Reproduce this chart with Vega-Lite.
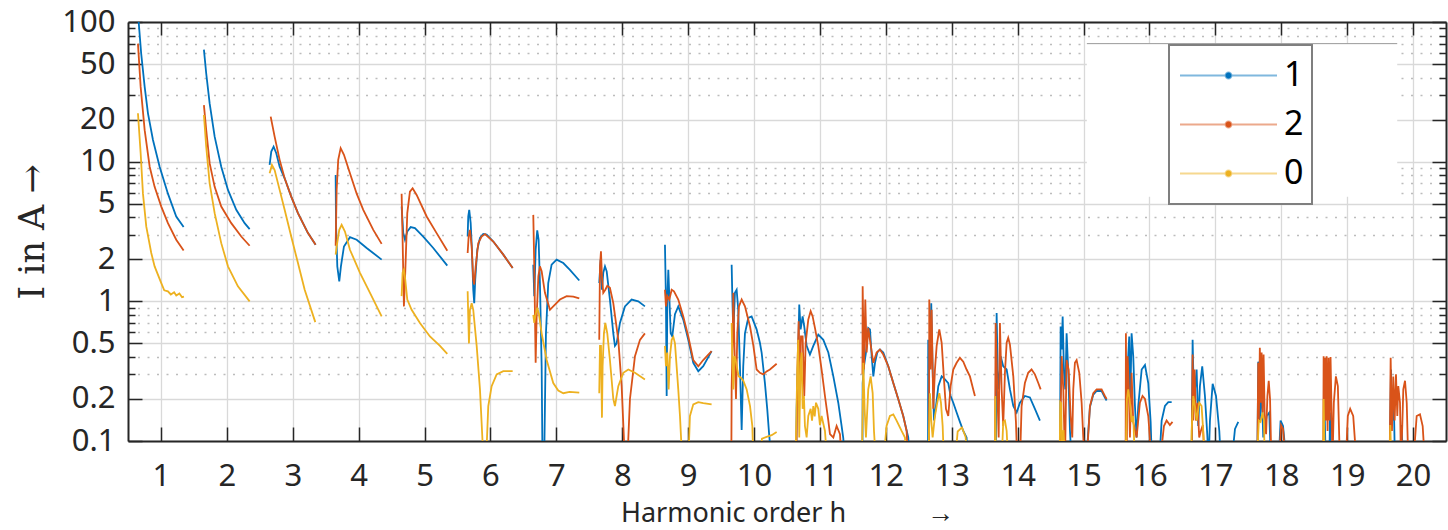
{
"$schema":"https://vega.github.io/schema/vega-lite/v6.json",
"width":1318,"height":419,
"autosize":"none",
"padding":{"left":128,"top":22,"right":2,"bottom":89},
"background":"white",
"config":{"view":{"stroke":null},
 "axis":{"labelFont":"Noto Sans","labelColor":"#262626","labelFontSize":31,"tickColor":"#262626","tickWidth":1.5,"domainColor":"#262626","domainWidth":2,"labelFlush":false,"labelOverlap":false,"titleFontWeight":"normal","titleColor":"#262626","gridColor":"#d9d9d9","gridWidth":1.3}},
"resolve":{"axis":{"x":"independent","y":"independent"}},
"layer":[
{"data":{"values":[{"h":1,"I":1}]},"mark":{"type":"point","opacity":0},
 "encoding":{
  "x":{"field":"h","type":"quantitative","scale":{"domain":[0.5,20.5],"nice":false,"zero":false},
   "axis":{"orient":"bottom","values":[1,2,3,4,5,6,7,8,9,10,11,12,13,14,15,16,17,18,19,20],"ticks":false,"grid":true,"domain":true,"labelPadding":20,
   "title":"Harmonic order h\u2003\u2003\u2003→","titleFont":"Noto Sans","titleFontSize":27,"titlePadding":9}},
  "y":{"field":"I","type":"quantitative","scale":{"type":"log","domain":[0.1,100],"nice":false},
   "axis":{"orient":"left","values":[0.1,0.2,0.5,1,2,5,10,20,50,100],"format":"~g","ticks":false,"grid":true,"domain":true,"labelPadding":13,
   "title":"I in A →","titleFont":"DejaVu Serif","titleFontSize":35,"titlePadding":11}}}},
{"data":{"values":[{"h":1,"I":1}]},"mark":{"type":"point","opacity":0},
 "encoding":{
  "x":{"field":"h","type":"quantitative","scale":{"domain":[0.5,20.5],"nice":false,"zero":false},
   "axis":{"orient":"bottom","values":[1,2,3,4,5,6,7,8,9,10,11,12,13,14,15,16,17,18,19,20],"labels":false,"grid":false,"domain":false,"ticks":true,"tickSize":-14,"title":null}},
  "y":{"field":"I","type":"quantitative","scale":{"type":"log","domain":[0.1,100],"nice":false},
   "axis":{"orient":"left","values":[0.3,0.4,0.6,0.7,0.8,0.9,3,4,6,7,8,9,30,40,60,70,80,90],"labels":false,"grid":true,"gridDash":[2,7.5],"gridColor":"#bcbcbc","gridWidth":1.4,"domain":false,"ticks":true,"tickSize":-7,"title":null}}}},
{"data":{"values":[{"h":1,"I":1}]},"mark":{"type":"point","opacity":0},
 "encoding":{
  "x":{"field":"h","type":"quantitative","scale":{"domain":[0.5,20.5],"nice":false,"zero":false},
   "axis":{"orient":"top","values":[1,2,3,4,5,6,7,8,9,10,11,12,13,14,15,16,17,18,19,20],"labels":false,"grid":false,"domain":true,"ticks":true,"tickSize":-13,"title":null}},
  "y":{"field":"I","type":"quantitative","scale":{"type":"log","domain":[0.1,100],"nice":false},
   "axis":{"orient":"left","values":[0.1,0.2,0.5,1,2,5,10,20,50,100],"labels":false,"grid":false,"domain":false,"ticks":true,"tickSize":-14,"title":null}}}},
{"data":{"values":[{"h":1,"I":1}]},"mark":{"type":"point","opacity":0},
 "encoding":{
  "x":{"field":"h","type":"quantitative","scale":{"domain":[0.5,20.5],"nice":false,"zero":false},"axis":null},
  "y":{"field":"I","type":"quantitative","scale":{"type":"log","domain":[0.1,100],"nice":false},
   "axis":{"orient":"right","values":[0.1,0.2,0.5,1,2,5,10,20,50,100],"labels":false,"grid":false,"domain":true,"ticks":true,"tickSize":-14,"title":null}}}},
{"data":{"values":[{"h":1,"I":1}]},"mark":{"type":"point","opacity":0},
 "encoding":{
  "x":{"field":"h","type":"quantitative","scale":{"domain":[0.5,20.5],"nice":false,"zero":false},"axis":null},
  "y":{"field":"I","type":"quantitative","scale":{"type":"log","domain":[0.1,100],"nice":false},
   "axis":{"orient":"right","values":[0.3,0.4,0.6,0.7,0.8,0.9,3,4,6,7,8,9,30,40,60,70,80,90],"labels":false,"grid":false,"domain":false,"ticks":true,"tickSize":-7,"title":null}}}},
{"data":{"values":[{}]},"mark":{"type":"rect","color":"white"},
 "encoding":{
  "x":{"datum":15.05,"type":"quantitative","scale":{"domain":[0.5,20.5],"nice":false,"zero":false},"axis":null},
  "x2":{"datum":19.76},
  "y":{"datum":70,"type":"quantitative","scale":{"type":"log","domain":[0.1,100],"nice":false},"axis":null},
  "y2":{"datum":5.6}}},
{"data":{"values":[{}]},"mark":{"type":"rule","color":"#9a9a9a","strokeWidth":1},
 "encoding":{
  "x":{"datum":15.05,"type":"quantitative","scale":{"domain":[0.5,20.5],"nice":false,"zero":false},"axis":null},
  "x2":{"datum":19.76},
  "y":{"datum":70,"type":"quantitative","scale":{"type":"log","domain":[0.1,100],"nice":false},"axis":null}}},
{"data":{"values":[
{"s":1,"g":1,"h":0.655,"I":110},{"s":1,"g":1,"h":0.70,"I":59.5},{"s":1,"g":1,"h":0.753,"I":34.3},{"s":1,"g":1,"h":0.803,"I":22.2},{"s":1,"g":1,"h":0.879,"I":14.3},{"s":1,"g":1,"h":0.98,"I":9.2},{"s":1,"g":1,"h":1.106,"I":5.9},{"s":1,"g":1,"h":1.232,"I":4.05},{"s":1,"g":1,"h":1.344,"I":3.4},
{"s":1,"g":2,"h":1.652,"I":63.5},{"s":1,"g":2,"h":1.687,"I":42.8},{"s":1,"g":2,"h":1.739,"I":26.1},{"s":1,"g":2,"h":1.815,"I":15.1},{"s":1,"g":2,"h":1.915,"I":9.2},{"s":1,"g":2,"h":2.017,"I":6.28},{"s":1,"g":2,"h":2.143,"I":4.52},{"s":1,"g":2,"h":2.27,"I":3.63},{"s":1,"g":2,"h":2.346,"I":3.29},
{"s":1,"g":3,"h":2.649,"I":9.47},{"s":1,"g":3,"h":2.674,"I":11.8},{"s":1,"g":3,"h":2.71,"I":12.8},{"s":1,"g":3,"h":2.75,"I":11.5},{"s":1,"g":3,"h":2.801,"I":9.2},{"s":1,"g":3,"h":2.877,"I":7.6},{"s":1,"g":3,"h":2.977,"I":5.62},{"s":1,"g":3,"h":3.079,"I":4.28},{"s":1,"g":3,"h":3.231,"I":3.08},{"s":1,"g":3,"h":3.347,"I":2.54},
{"s":1,"g":4,"h":3.651,"I":8.03},{"s":1,"g":4,"h":3.656,"I":3.63},{"s":1,"g":4,"h":3.676,"I":1.78},{"s":1,"g":4,"h":3.706,"I":1.39},{"s":1,"g":4,"h":3.731,"I":1.78},{"s":1,"g":4,"h":3.777,"I":2.47},{"s":1,"g":4,"h":3.868,"I":2.88},{"s":1,"g":4,"h":3.97,"I":2.76},{"s":1,"g":4,"h":4.121,"I":2.41},{"s":1,"g":4,"h":4.349,"I":1.99},
{"s":1,"g":5,"h":4.652,"I":4.77},{"s":1,"g":5,"h":4.677,"I":3.08},{"s":1,"g":5,"h":4.703,"I":2.76},{"s":1,"g":5,"h":4.738,"I":3.16},{"s":1,"g":5,"h":4.789,"I":3.4},{"s":1,"g":5,"h":4.854,"I":3.34},{"s":1,"g":5,"h":4.98,"I":2.91},{"s":1,"g":5,"h":5.132,"I":2.41},{"s":1,"g":5,"h":5.345,"I":1.8},
{"s":1,"g":6,"h":5.654,"I":2.91},{"s":1,"g":6,"h":5.663,"I":4.05},{"s":1,"g":6,"h":5.678,"I":4.52},{"s":1,"g":6,"h":5.7,"I":3.63},{"s":1,"g":6,"h":5.719,"I":2.34},{"s":1,"g":6,"h":5.739,"I":1.21},{"s":1,"g":6,"h":5.754,"I":0.97},{"s":1,"g":6,"h":5.769,"I":1.43},{"s":1,"g":6,"h":5.8,"I":2.34},{"s":1,"g":6,"h":5.841,"I":2.84},{"s":1,"g":6,"h":5.891,"I":3.03},{"s":1,"g":6,"h":5.942,"I":3.0},{"s":1,"g":6,"h":6.043,"I":2.68},{"s":1,"g":6,"h":6.195,"I":2.16},{"s":1,"g":6,"h":6.337,"I":1.73},
{"s":1,"g":7,"h":6.65,"I":1.83},{"s":1,"g":7,"h":6.665,"I":1.09},{"s":1,"g":7,"h":6.686,"I":2.34},{"s":1,"g":7,"h":6.71,"I":3.22},{"s":1,"g":7,"h":6.731,"I":2.76},{"s":1,"g":7,"h":6.751,"I":1.35},{"s":1,"g":7,"h":6.777,"I":0.343},{"s":1,"g":7,"h":6.79,"I":0.07},{"s":1,"g":7,"h":6.815,"I":0.07},{"s":1,"g":7,"h":6.842,"I":0.59},{"s":1,"g":7,"h":6.877,"I":1.35},{"s":1,"g":7,"h":6.928,"I":1.83},{"s":1,"g":7,"h":7.004,"I":1.99},{"s":1,"g":7,"h":7.105,"I":1.88},{"s":1,"g":7,"h":7.206,"I":1.68},{"s":1,"g":7,"h":7.348,"I":1.41},
{"s":1,"g":8,"h":7.651,"I":1.35},{"s":1,"g":8,"h":7.672,"I":1.99},{"s":1,"g":8,"h":7.692,"I":1.21},{"s":1,"g":8,"h":7.712,"I":1.6},{"s":1,"g":8,"h":7.738,"I":1.78},{"s":1,"g":8,"h":7.764,"I":1.64},{"s":1,"g":8,"h":7.813,"I":1.03},{"s":1,"g":8,"h":7.864,"I":0.59},{"s":1,"g":8,"h":7.889,"I":0.48},{"s":1,"g":8,"h":7.915,"I":0.5},{"s":1,"g":8,"h":7.965,"I":0.7},{"s":1,"g":8,"h":8.041,"I":0.92},{"s":1,"g":8,"h":8.142,"I":1.03},{"s":1,"g":8,"h":8.243,"I":1.0},{"s":1,"g":8,"h":8.344,"I":0.92},
{"s":1,"g":9,"h":8.648,"I":2.54},{"s":1,"g":9,"h":8.663,"I":1.03},{"s":1,"g":9,"h":8.674,"I":0.21},{"s":1,"g":9,"h":8.684,"I":1.03},{"s":1,"g":9,"h":8.699,"I":1.68},{"s":1,"g":9,"h":8.714,"I":1.09},{"s":1,"g":9,"h":8.735,"I":0.59},{"s":1,"g":9,"h":8.759,"I":0.56},{"s":1,"g":9,"h":8.8,"I":0.81},{"s":1,"g":9,"h":8.85,"I":0.92},{"s":1,"g":9,"h":8.926,"I":0.74},{"s":1,"g":9,"h":9.002,"I":0.53},{"s":1,"g":9,"h":9.078,"I":0.363},{"s":1,"g":9,"h":9.154,"I":0.316},{"s":1,"g":9,"h":9.229,"I":0.343},{"s":1,"g":9,"h":9.356,"I":0.44},
{"s":1,"g":10,"h":9.66,"I":1.83},{"s":1,"g":10,"h":9.669,"I":1.15},{"s":1,"g":10,"h":9.685,"I":0.59},{"s":1,"g":10,"h":9.71,"I":1.15},{"s":1,"g":10,"h":9.736,"I":1.21},{"s":1,"g":10,"h":9.76,"I":0.87},{"s":1,"g":10,"h":9.786,"I":0.343},{"s":1,"g":10,"h":9.812,"I":0.12},{"s":1,"g":10,"h":9.836,"I":0.343},{"s":1,"g":10,"h":9.862,"I":0.59},{"s":1,"g":10,"h":9.912,"I":0.76},{"s":1,"g":10,"h":9.963,"I":0.78},{"s":1,"g":10,"h":10.039,"I":0.63},{"s":1,"g":10,"h":10.089,"I":0.505},{"s":1,"g":10,"h":10.115,"I":0.43},{"s":1,"g":10,"h":10.165,"I":0.26},{"s":1,"g":10,"h":10.2,"I":0.17},{"s":1,"g":10,"h":10.23,"I":0.11},{"s":1,"g":10,"h":10.267,"I":0.07},
{"s":1,"g":11,"h":10.64,"I":0.07},{"s":1,"g":11,"h":10.646,"I":0.17},{"s":1,"g":11,"h":10.67,"I":0.43},{"s":1,"g":11,"h":10.686,"I":0.95},{"s":1,"g":11,"h":10.707,"I":0.63},{"s":1,"g":11,"h":10.737,"I":0.78},{"s":1,"g":11,"h":10.762,"I":0.66},{"s":1,"g":11,"h":10.798,"I":0.48},{"s":1,"g":11,"h":10.848,"I":0.416},{"s":1,"g":11,"h":10.899,"I":0.48},{"s":1,"g":11,"h":10.975,"I":0.578},{"s":1,"g":11,"h":11.051,"I":0.53},{"s":1,"g":11,"h":11.127,"I":0.43},{"s":1,"g":11,"h":11.203,"I":0.29},{"s":1,"g":11,"h":11.278,"I":0.188},{"s":1,"g":11,"h":11.329,"I":0.128},{"s":1,"g":11,"h":11.354,"I":0.105},{"s":1,"g":11,"h":11.38,"I":0.07},
{"s":1,"g":12,"h":11.645,"I":0.07},{"s":1,"g":12,"h":11.648,"I":0.26},{"s":1,"g":12,"h":11.668,"I":0.343},{"s":1,"g":12,"h":11.698,"I":0.43},{"s":1,"g":12,"h":11.733,"I":0.645},{"s":1,"g":12,"h":11.759,"I":0.63},{"s":1,"g":12,"h":11.785,"I":0.405},{"s":1,"g":12,"h":11.81,"I":0.29},{"s":1,"g":12,"h":11.835,"I":0.363},{"s":1,"g":12,"h":11.87,"I":0.43},{"s":1,"g":12,"h":11.91,"I":0.452},{"s":1,"g":12,"h":11.961,"I":0.43},{"s":1,"g":12,"h":12.037,"I":0.343},{"s":1,"g":12,"h":12.113,"I":0.26},{"s":1,"g":12,"h":12.188,"I":0.2},{"s":1,"g":12,"h":12.264,"I":0.151},{"s":1,"g":12,"h":12.34,"I":0.106},{"s":1,"g":12,"h":12.365,"I":0.07},
{"s":1,"g":13,"h":12.64,"I":0.07},{"s":1,"g":13,"h":12.643,"I":0.53},{"s":1,"g":13,"h":12.669,"I":0.43},{"s":1,"g":13,"h":12.689,"I":0.97},{"s":1,"g":13,"h":12.71,"I":0.325},{"s":1,"g":13,"h":12.73,"I":0.14},{"s":1,"g":13,"h":12.761,"I":0.178},{"s":1,"g":13,"h":12.796,"I":0.247},{"s":1,"g":13,"h":12.847,"I":0.29},{"s":1,"g":13,"h":12.897,"I":0.276},{"s":1,"g":13,"h":12.947,"I":0.26},{"s":1,"g":13,"h":12.983,"I":0.21},{"s":1,"g":13,"h":13.023,"I":0.188},{"s":1,"g":13,"h":13.074,"I":0.16},{"s":1,"g":13,"h":13.124,"I":0.137},{"s":1,"g":13,"h":13.175,"I":0.118},{"s":1,"g":13,"h":13.225,"I":0.106},{"s":1,"g":13,"h":13.245,"I":0.07},
{"s":1,"g":14,"h":13.67,"I":0.07},{"s":1,"g":14,"h":13.681,"I":0.826},{"s":1,"g":14,"h":13.696,"I":0.325},{"s":1,"g":14,"h":13.716,"I":0.234},{"s":1,"g":14,"h":13.742,"I":0.405},{"s":1,"g":14,"h":13.781,"I":0.343},{"s":1,"g":14,"h":13.833,"I":0.325},{"s":1,"g":14,"h":13.883,"I":0.234},{"s":1,"g":14,"h":13.934,"I":0.178},{"s":1,"g":14,"h":13.985,"I":0.16},{"s":1,"g":14,"h":14.035,"I":0.188},{"s":1,"g":14,"h":14.11,"I":0.21},{"s":1,"g":14,"h":14.186,"I":0.205},{"s":1,"g":14,"h":14.262,"I":0.17},{"s":1,"g":14,"h":14.338,"I":0.14},
{"s":1,"g":15,"h":14.642,"I":0.07},{"s":1,"g":15,"h":14.652,"I":0.66},{"s":1,"g":15,"h":14.668,"I":0.452},{"s":1,"g":15,"h":14.683,"I":0.78},{"s":1,"g":15,"h":14.703,"I":0.308},{"s":1,"g":15,"h":14.723,"I":0.234},{"s":1,"g":15,"h":14.743,"I":0.59},{"s":1,"g":15,"h":14.769,"I":0.308},{"s":1,"g":15,"h":14.794,"I":0.118},{"s":1,"g":15,"h":14.819,"I":0.07},{"s":1,"g":15,"h":15.04,"I":0.07},{"s":1,"g":15,"h":15.097,"I":0.175},{"s":1,"g":15,"h":15.148,"I":0.215},{"s":1,"g":15,"h":15.198,"I":0.228},{"s":1,"g":15,"h":15.274,"I":0.228},{"s":1,"g":15,"h":15.324,"I":0.205},{"s":1,"g":15,"h":15.35,"I":0.195},
{"s":1,"g":16,"h":15.64,"I":0.07},{"s":1,"g":16,"h":15.643,"I":0.106},{"s":1,"g":16,"h":15.654,"I":0.234},{"s":1,"g":16,"h":15.678,"I":0.405},{"s":1,"g":16,"h":15.693,"I":0.56},{"s":1,"g":16,"h":15.708,"I":0.178},{"s":1,"g":16,"h":15.729,"I":0.59},{"s":1,"g":16,"h":15.754,"I":0.405},{"s":1,"g":16,"h":15.78,"I":0.178},{"s":1,"g":16,"h":15.805,"I":0.106},{"s":1,"g":16,"h":15.83,"I":0.178},{"s":1,"g":16,"h":15.882,"I":0.325},{"s":1,"g":16,"h":15.932,"I":0.35},{"s":1,"g":16,"h":15.982,"I":0.26},{"s":1,"g":16,"h":16.018,"I":0.137},{"s":1,"g":16,"h":16.038,"I":0.07},{"s":1,"g":16,"h":16.149,"I":0.07},{"s":1,"g":16,"h":16.185,"I":0.14},{"s":1,"g":16,"h":16.235,"I":0.178},{"s":1,"g":16,"h":16.286,"I":0.19},{"s":1,"g":16,"h":16.337,"I":0.19},
{"s":1,"g":17,"h":16.64,"I":0.07},{"s":1,"g":17,"h":16.655,"I":0.53},{"s":1,"g":17,"h":16.675,"I":0.188},{"s":1,"g":17,"h":16.716,"I":0.325},{"s":1,"g":17,"h":16.74,"I":0.128},{"s":1,"g":17,"h":16.766,"I":0.247},{"s":1,"g":17,"h":16.801,"I":0.343},{"s":1,"g":17,"h":16.842,"I":0.21},{"s":1,"g":17,"h":16.877,"I":0.112},{"s":1,"g":17,"h":16.898,"I":0.07},{"s":1,"g":17,"h":16.918,"I":0.14},{"s":1,"g":17,"h":16.959,"I":0.257},{"s":1,"g":17,"h":17.01,"I":0.21},{"s":1,"g":17,"h":17.06,"I":0.118},{"s":1,"g":17,"h":17.085,"I":0.07},{"s":1,"g":17,"h":17.247,"I":0.07},{"s":1,"g":17,"h":17.298,"I":0.122},{"s":1,"g":17,"h":17.348,"I":0.137},
{"s":1,"g":18,"h":17.637,"I":0.07},{"s":1,"g":18,"h":17.651,"I":0.37},{"s":1,"g":18,"h":17.675,"I":0.14},{"s":1,"g":18,"h":17.702,"I":0.247},{"s":1,"g":18,"h":17.727,"I":0.106},{"s":1,"g":18,"h":17.778,"I":0.151},{"s":1,"g":18,"h":17.818,"I":0.16},{"s":1,"g":18,"h":17.844,"I":0.07},{"s":1,"g":18,"h":17.96,"I":0.07},{"s":1,"g":18,"h":17.99,"I":0.14},{"s":1,"g":18,"h":18.027,"I":0.128},{"s":1,"g":18,"h":18.08,"I":0.07},
{"s":1,"g":19,"h":18.645,"I":0.07},{"s":1,"g":19,"h":18.66,"I":0.151},{"s":1,"g":19,"h":18.675,"I":0.07},{"s":1,"g":19,"h":18.73,"I":0.07},{"s":1,"g":19,"h":18.74,"I":0.16},{"s":1,"g":19,"h":18.755,"I":0.07},
{"s":1,"g":20,"h":19.645,"I":0.07},{"s":1,"g":20,"h":19.665,"I":0.325},{"s":1,"g":20,"h":19.685,"I":0.14},{"s":1,"g":20,"h":19.705,"I":0.234},{"s":1,"g":20,"h":19.725,"I":0.07},{"s":1,"g":20,"h":19.8,"I":0.07},{"s":1,"g":20,"h":19.825,"I":0.13},{"s":1,"g":20,"h":19.85,"I":0.07},
{"s":2,"g":1,"h":0.651,"I":70},{"s":2,"g":1,"h":0.692,"I":34.3},{"s":2,"g":1,"h":0.753,"I":16.8},{"s":2,"g":1,"h":0.829,"I":9.2},{"s":2,"g":1,"h":0.904,"I":6.6},{"s":2,"g":1,"h":1.005,"I":4.77},{"s":2,"g":1,"h":1.106,"I":3.63},{"s":2,"g":1,"h":1.232,"I":2.76},{"s":2,"g":1,"h":1.344,"I":2.31},
{"s":2,"g":2,"h":1.652,"I":25.4},{"s":2,"g":2,"h":1.687,"I":16.8},{"s":2,"g":2,"h":1.739,"I":9.75},{"s":2,"g":2,"h":1.815,"I":6.6},{"s":2,"g":2,"h":1.915,"I":4.77},{"s":2,"g":2,"h":2.067,"I":3.63},{"s":2,"g":2,"h":2.219,"I":2.91},{"s":2,"g":2,"h":2.346,"I":2.5},
{"s":2,"g":3,"h":2.665,"I":21.0},{"s":2,"g":3,"h":2.725,"I":15.1},{"s":2,"g":3,"h":2.801,"I":10.3},{"s":2,"g":3,"h":2.877,"I":7.6},{"s":2,"g":3,"h":2.977,"I":5.62},{"s":2,"g":3,"h":3.079,"I":4.28},{"s":2,"g":3,"h":3.231,"I":3.08},{"s":2,"g":3,"h":3.347,"I":2.54},
{"s":2,"g":4,"h":3.651,"I":2.5},{"s":2,"g":4,"h":3.666,"I":6.28},{"s":2,"g":4,"h":3.69,"I":10.3},{"s":2,"g":4,"h":3.727,"I":12.5},{"s":2,"g":4,"h":3.777,"I":11.2},{"s":2,"g":4,"h":3.868,"I":8.26},{"s":2,"g":4,"h":3.97,"I":5.9},{"s":2,"g":4,"h":4.07,"I":4.52},{"s":2,"g":4,"h":4.222,"I":3.25},{"s":2,"g":4,"h":4.349,"I":2.58},
{"s":2,"g":5,"h":4.652,"I":5.9},{"s":2,"g":5,"h":4.667,"I":2.76},{"s":2,"g":5,"h":4.687,"I":0.92},{"s":2,"g":5,"h":4.707,"I":1.6},{"s":2,"g":5,"h":4.738,"I":4.28},{"s":2,"g":5,"h":4.778,"I":6.1},{"s":2,"g":5,"h":4.819,"I":6.45},{"s":2,"g":5,"h":4.88,"I":5.78},{"s":2,"g":5,"h":5.032,"I":4.05},{"s":2,"g":5,"h":5.183,"I":3.08},{"s":2,"g":5,"h":5.345,"I":2.3},
{"s":2,"g":6,"h":5.654,"I":2.22},{"s":2,"g":6,"h":5.669,"I":2.91},{"s":2,"g":6,"h":5.689,"I":3.25},{"s":2,"g":6,"h":5.715,"I":2.47},{"s":2,"g":6,"h":5.739,"I":1.43},{"s":2,"g":6,"h":5.754,"I":1.32},{"s":2,"g":6,"h":5.776,"I":1.78},{"s":2,"g":6,"h":5.815,"I":2.61},{"s":2,"g":6,"h":5.866,"I":2.91},{"s":2,"g":6,"h":5.917,"I":3.03},{"s":2,"g":6,"h":6.043,"I":2.68},{"s":2,"g":6,"h":6.195,"I":2.16},{"s":2,"g":6,"h":6.337,"I":1.73},
{"s":2,"g":7,"h":6.65,"I":4.16},{"s":2,"g":7,"h":6.665,"I":1.78},{"s":2,"g":7,"h":6.686,"I":0.363},{"s":2,"g":7,"h":6.701,"I":0.78},{"s":2,"g":7,"h":6.727,"I":1.51},{"s":2,"g":7,"h":6.751,"I":1.78},{"s":2,"g":7,"h":6.777,"I":1.64},{"s":2,"g":7,"h":6.827,"I":1.15},{"s":2,"g":7,"h":6.903,"I":0.87},{"s":2,"g":7,"h":6.953,"I":0.92},{"s":2,"g":7,"h":7.055,"I":1.03},{"s":2,"g":7,"h":7.156,"I":1.09},{"s":2,"g":7,"h":7.257,"I":1.08},{"s":2,"g":7,"h":7.348,"I":1.05},
{"s":2,"g":8,"h":7.651,"I":0.53},{"s":2,"g":8,"h":7.662,"I":1.78},{"s":2,"g":8,"h":7.677,"I":2.28},{"s":2,"g":8,"h":7.692,"I":1.51},{"s":2,"g":8,"h":7.712,"I":1.15},{"s":2,"g":8,"h":7.743,"I":1.21},{"s":2,"g":8,"h":7.773,"I":1.29},{"s":2,"g":8,"h":7.813,"I":1.25},{"s":2,"g":8,"h":7.864,"I":0.97},{"s":2,"g":8,"h":7.94,"I":0.53},{"s":2,"g":8,"h":7.991,"I":0.247},{"s":2,"g":8,"h":8.041,"I":0.07},{"s":2,"g":8,"h":8.077,"I":0.07},{"s":2,"g":8,"h":8.117,"I":0.2},{"s":2,"g":8,"h":8.193,"I":0.405},{"s":2,"g":8,"h":8.269,"I":0.53},{"s":2,"g":8,"h":8.344,"I":0.59},
{"s":2,"g":9,"h":8.648,"I":1.21},{"s":2,"g":9,"h":8.663,"I":0.92},{"s":2,"g":9,"h":8.684,"I":1.09},{"s":2,"g":9,"h":8.714,"I":1.03},{"s":2,"g":9,"h":8.75,"I":1.21},{"s":2,"g":9,"h":8.785,"I":1.18},{"s":2,"g":9,"h":8.85,"I":1.03},{"s":2,"g":9,"h":8.926,"I":0.78},{"s":2,"g":9,"h":9.002,"I":0.56},{"s":2,"g":9,"h":9.078,"I":0.38},{"s":2,"g":9,"h":9.154,"I":0.343},{"s":2,"g":9,"h":9.229,"I":0.38},{"s":2,"g":9,"h":9.356,"I":0.44},
{"s":2,"g":10,"h":9.655,"I":0.07},{"s":2,"g":10,"h":9.66,"I":0.24},{"s":2,"g":10,"h":9.675,"I":0.53},{"s":2,"g":10,"h":9.685,"I":1.15},{"s":2,"g":10,"h":9.7,"I":0.53},{"s":2,"g":10,"h":9.726,"I":0.2},{"s":2,"g":10,"h":9.746,"I":0.59},{"s":2,"g":10,"h":9.771,"I":0.92},{"s":2,"g":10,"h":9.812,"I":1.03},{"s":2,"g":10,"h":9.862,"I":0.92},{"s":2,"g":10,"h":9.939,"I":0.66},{"s":2,"g":10,"h":9.99,"I":0.48},{"s":2,"g":10,"h":10.039,"I":0.325},{"s":2,"g":10,"h":10.089,"I":0.308},{"s":2,"g":10,"h":10.14,"I":0.3},{"s":2,"g":10,"h":10.19,"I":0.315},{"s":2,"g":10,"h":10.241,"I":0.325},{"s":2,"g":10,"h":10.343,"I":0.357},
{"s":2,"g":11,"h":10.64,"I":0.07},{"s":2,"g":11,"h":10.646,"I":0.106},{"s":2,"g":11,"h":10.661,"I":0.363},{"s":2,"g":11,"h":10.677,"I":0.72},{"s":2,"g":11,"h":10.697,"I":0.22},{"s":2,"g":11,"h":10.712,"I":0.56},{"s":2,"g":11,"h":10.737,"I":0.56},{"s":2,"g":11,"h":10.762,"I":0.21},{"s":2,"g":11,"h":10.783,"I":0.505},{"s":2,"g":11,"h":10.823,"I":0.74},{"s":2,"g":11,"h":10.859,"I":0.85},{"s":2,"g":11,"h":10.889,"I":0.78},{"s":2,"g":11,"h":10.924,"I":0.645},{"s":2,"g":11,"h":10.975,"I":0.48},{"s":2,"g":11,"h":11.025,"I":0.325},{"s":2,"g":11,"h":11.076,"I":0.21},{"s":2,"g":11,"h":11.127,"I":0.14},{"s":2,"g":11,"h":11.152,"I":0.112},{"s":2,"g":11,"h":11.203,"I":0.106},{"s":2,"g":11,"h":11.253,"I":0.128},{"s":2,"g":11,"h":11.304,"I":0.112},{"s":2,"g":11,"h":11.33,"I":0.07},
{"s":2,"g":12,"h":11.645,"I":0.3},{"s":2,"g":12,"h":11.648,"I":1.28},{"s":2,"g":12,"h":11.668,"I":0.325},{"s":2,"g":12,"h":11.688,"I":1.03},{"s":2,"g":12,"h":11.709,"I":0.43},{"s":2,"g":12,"h":11.733,"I":0.645},{"s":2,"g":12,"h":11.759,"I":0.53},{"s":2,"g":12,"h":11.81,"I":0.363},{"s":2,"g":12,"h":11.86,"I":0.43},{"s":2,"g":12,"h":11.91,"I":0.452},{"s":2,"g":12,"h":11.961,"I":0.416},{"s":2,"g":12,"h":12.037,"I":0.343},{"s":2,"g":12,"h":12.113,"I":0.26},{"s":2,"g":12,"h":12.188,"I":0.2},{"s":2,"g":12,"h":12.264,"I":0.151},{"s":2,"g":12,"h":12.315,"I":0.118},{"s":2,"g":12,"h":12.34,"I":0.07},
{"s":2,"g":13,"h":12.655,"I":0.07},{"s":2,"g":13,"h":12.659,"I":1.03},{"s":2,"g":13,"h":12.679,"I":0.325},{"s":2,"g":13,"h":12.695,"I":0.87},{"s":2,"g":13,"h":12.72,"I":0.17},{"s":2,"g":13,"h":12.745,"I":0.325},{"s":2,"g":13,"h":12.771,"I":0.48},{"s":2,"g":13,"h":12.811,"I":0.63},{"s":2,"g":13,"h":12.847,"I":0.505},{"s":2,"g":13,"h":12.882,"I":0.276},{"s":2,"g":13,"h":12.912,"I":0.17},{"s":2,"g":13,"h":12.947,"I":0.151},{"s":2,"g":13,"h":12.983,"I":0.247},{"s":2,"g":13,"h":13.023,"I":0.325},{"s":2,"g":13,"h":13.074,"I":0.363},{"s":2,"g":13,"h":13.124,"I":0.394},{"s":2,"g":13,"h":13.175,"I":0.37},{"s":2,"g":13,"h":13.225,"I":0.325},{"s":2,"g":13,"h":13.276,"I":0.29},{"s":2,"g":13,"h":13.326,"I":0.234},{"s":2,"g":13,"h":13.352,"I":0.21},
{"s":2,"g":14,"h":13.655,"I":0.07},{"s":2,"g":14,"h":13.666,"I":0.7},{"s":2,"g":14,"h":13.691,"I":0.234},{"s":2,"g":14,"h":13.712,"I":0.106},{"s":2,"g":14,"h":13.731,"I":0.7},{"s":2,"g":14,"h":13.757,"I":0.234},{"s":2,"g":14,"h":13.781,"I":0.128},{"s":2,"g":14,"h":13.807,"I":0.308},{"s":2,"g":14,"h":13.833,"I":0.505},{"s":2,"g":14,"h":13.857,"I":0.548},{"s":2,"g":14,"h":13.883,"I":0.49},{"s":2,"g":14,"h":13.934,"I":0.29},{"s":2,"g":14,"h":13.974,"I":0.137},{"s":2,"g":14,"h":13.994,"I":0.07},{"s":2,"g":14,"h":14.035,"I":0.07},{"s":2,"g":14,"h":14.06,"I":0.178},{"s":2,"g":14,"h":14.11,"I":0.26},{"s":2,"g":14,"h":14.16,"I":0.308},{"s":2,"g":14,"h":14.211,"I":0.325},{"s":2,"g":14,"h":14.262,"I":0.3},{"s":2,"g":14,"h":14.313,"I":0.26},{"s":2,"g":14,"h":14.349,"I":0.234},
{"s":2,"g":15,"h":14.645,"I":0.07},{"s":2,"g":15,"h":14.652,"I":0.151},{"s":2,"g":15,"h":14.668,"I":0.405},{"s":2,"g":15,"h":14.693,"I":0.234},{"s":2,"g":15,"h":14.718,"I":0.07},{"s":2,"g":15,"h":14.743,"I":0.38},{"s":2,"g":15,"h":14.774,"I":0.325},{"s":2,"g":15,"h":14.804,"I":0.151},{"s":2,"g":15,"h":14.829,"I":0.106},{"s":2,"g":15,"h":14.844,"I":0.234},{"s":2,"g":15,"h":14.869,"I":0.363},{"s":2,"g":15,"h":14.895,"I":0.38},{"s":2,"g":15,"h":14.935,"I":0.308},{"s":2,"g":15,"h":14.971,"I":0.188},{"s":2,"g":15,"h":14.996,"I":0.106},{"s":2,"g":15,"h":15.021,"I":0.07},{"s":2,"g":15,"h":15.047,"I":0.07},{"s":2,"g":15,"h":15.097,"I":0.178},{"s":2,"g":15,"h":15.148,"I":0.22},{"s":2,"g":15,"h":15.198,"I":0.234},{"s":2,"g":15,"h":15.274,"I":0.234},{"s":2,"g":15,"h":15.324,"I":0.21},{"s":2,"g":15,"h":15.35,"I":0.2},
{"s":2,"g":16,"h":15.638,"I":0.07},{"s":2,"g":16,"h":15.643,"I":0.59},{"s":2,"g":16,"h":15.654,"I":0.07},{"s":2,"g":16,"h":15.669,"I":0.405},{"s":2,"g":16,"h":15.688,"I":0.234},{"s":2,"g":16,"h":15.704,"I":0.106},{"s":2,"g":16,"h":15.729,"I":0.308},{"s":2,"g":16,"h":15.754,"I":0.137},{"s":2,"g":16,"h":15.805,"I":0.106},{"s":2,"g":16,"h":15.855,"I":0.188},{"s":2,"g":16,"h":15.895,"I":0.21},{"s":2,"g":16,"h":15.932,"I":0.2},{"s":2,"g":16,"h":15.982,"I":0.151},{"s":2,"g":16,"h":16.033,"I":0.07},{"s":2,"g":16,"h":16.159,"I":0.07},{"s":2,"g":16,"h":16.22,"I":0.128},{"s":2,"g":16,"h":16.26,"I":0.14},{"s":2,"g":16,"h":16.31,"I":0.13},{"s":2,"g":16,"h":16.35,"I":0.137},
{"s":2,"g":17,"h":16.64,"I":0.07},{"s":2,"g":17,"h":16.655,"I":0.416},{"s":2,"g":17,"h":16.665,"I":0.14},{"s":2,"g":17,"h":16.685,"I":0.325},{"s":2,"g":17,"h":16.705,"I":0.14},{"s":2,"g":17,"h":16.73,"I":0.188},{"s":2,"g":17,"h":16.755,"I":0.106},{"s":2,"g":17,"h":16.78,"I":0.118},{"s":2,"g":17,"h":16.81,"I":0.13},{"s":2,"g":17,"h":16.84,"I":0.07},
{"s":2,"g":18,"h":17.637,"I":0.07},{"s":2,"g":18,"h":17.651,"I":0.363},{"s":2,"g":18,"h":17.66,"I":0.14},{"s":2,"g":18,"h":17.675,"I":0.465},{"s":2,"g":18,"h":17.69,"I":0.188},{"s":2,"g":18,"h":17.702,"I":0.43},{"s":2,"g":18,"h":17.717,"I":0.16},{"s":2,"g":18,"h":17.732,"I":0.416},{"s":2,"g":18,"h":17.75,"I":0.14},{"s":2,"g":18,"h":17.77,"I":0.112},{"s":2,"g":18,"h":17.79,"I":0.21},{"s":2,"g":18,"h":17.81,"I":0.27},{"s":2,"g":18,"h":17.83,"I":0.2},{"s":2,"g":18,"h":17.85,"I":0.07},{"s":2,"g":18,"h":17.966,"I":0.07},{"s":2,"g":18,"h":17.997,"I":0.13},{"s":2,"g":18,"h":18.027,"I":0.122},{"s":2,"g":18,"h":18.068,"I":0.07},
{"s":2,"g":19,"h":18.637,"I":0.07},{"s":2,"g":19,"h":18.643,"I":0.405},{"s":2,"g":19,"h":18.652,"I":0.14},{"s":2,"g":19,"h":18.663,"I":0.394},{"s":2,"g":19,"h":18.678,"I":0.14},{"s":2,"g":19,"h":18.688,"I":0.405},{"s":2,"g":19,"h":18.703,"I":0.118},{"s":2,"g":19,"h":18.718,"I":0.394},{"s":2,"g":19,"h":18.733,"I":0.14},{"s":2,"g":19,"h":18.748,"I":0.4},{"s":2,"g":19,"h":18.778,"I":0.07},{"s":2,"g":19,"h":18.798,"I":0.188},{"s":2,"g":19,"h":18.829,"I":0.29},{"s":2,"g":19,"h":18.859,"I":0.247},{"s":2,"g":19,"h":18.89,"I":0.07},{"s":2,"g":19,"h":18.98,"I":0.07},{"s":2,"g":19,"h":19.01,"I":0.151},{"s":2,"g":19,"h":19.046,"I":0.17},{"s":2,"g":19,"h":19.092,"I":0.151},{"s":2,"g":19,"h":19.142,"I":0.07},
{"s":2,"g":20,"h":19.645,"I":0.07},{"s":2,"g":20,"h":19.66,"I":0.394},{"s":2,"g":20,"h":19.68,"I":0.118},{"s":2,"g":20,"h":19.7,"I":0.29},{"s":2,"g":20,"h":19.721,"I":0.14},{"s":2,"g":20,"h":19.741,"I":0.3},{"s":2,"g":20,"h":19.761,"I":0.151},{"s":2,"g":20,"h":19.776,"I":0.247},{"s":2,"g":20,"h":19.802,"I":0.188},{"s":2,"g":20,"h":19.817,"I":0.07},{"s":2,"g":20,"h":19.837,"I":0.13},{"s":2,"g":20,"h":19.852,"I":0.234},{"s":2,"g":20,"h":19.878,"I":0.27},{"s":2,"g":20,"h":19.904,"I":0.188},{"s":2,"g":20,"h":19.928,"I":0.07},{"s":2,"g":20,"h":20.004,"I":0.07},{"s":2,"g":20,"h":20.055,"I":0.151},{"s":2,"g":20,"h":20.105,"I":0.155},{"s":2,"g":20,"h":20.146,"I":0.128},{"s":2,"g":20,"h":20.18,"I":0.07},
{"s":0,"g":1,"h":0.651,"I":22.2},{"s":0,"g":1,"h":0.692,"I":11.5},{"s":0,"g":1,"h":0.727,"I":5.9},{"s":0,"g":1,"h":0.777,"I":3.44},{"s":0,"g":1,"h":0.853,"I":2.22},{"s":0,"g":1,"h":0.904,"I":1.78},{"s":0,"g":1,"h":1.005,"I":1.35},{"s":0,"g":1,"h":1.05,"I":1.2},{"s":0,"g":1,"h":1.106,"I":1.18},{"s":0,"g":1,"h":1.15,"I":1.12},{"s":0,"g":1,"h":1.2,"I":1.16},{"s":0,"g":1,"h":1.232,"I":1.1},{"s":0,"g":1,"h":1.28,"I":1.14},{"s":0,"g":1,"h":1.32,"I":1.07},{"s":0,"g":1,"h":1.349,"I":1.08},
{"s":0,"g":2,"h":1.652,"I":21.6},{"s":0,"g":2,"h":1.687,"I":12.8},{"s":0,"g":2,"h":1.739,"I":7.0},{"s":0,"g":2,"h":1.815,"I":4.28},{"s":0,"g":2,"h":1.915,"I":2.61},{"s":0,"g":2,"h":2.017,"I":1.78},{"s":0,"g":2,"h":2.168,"I":1.28},{"s":0,"g":2,"h":2.346,"I":1.0},
{"s":0,"g":3,"h":2.649,"I":8.26},{"s":0,"g":3,"h":2.684,"I":9.47},{"s":0,"g":3,"h":2.725,"I":8.7},{"s":0,"g":3,"h":2.801,"I":6.28},{"s":0,"g":3,"h":2.877,"I":4.52},{"s":0,"g":3,"h":2.977,"I":2.91},{"s":0,"g":3,"h":3.079,"I":1.88},{"s":0,"g":3,"h":3.181,"I":1.21},{"s":0,"g":3,"h":3.342,"I":0.71},
{"s":0,"g":4,"h":3.651,"I":2.16},{"s":0,"g":4,"h":3.666,"I":2.47},{"s":0,"g":4,"h":3.706,"I":3.25},{"s":0,"g":4,"h":3.742,"I":3.53},{"s":0,"g":4,"h":3.792,"I":3.16},{"s":0,"g":4,"h":3.868,"I":2.34},{"s":0,"g":4,"h":4.02,"I":1.6},{"s":0,"g":4,"h":4.172,"I":1.15},{"s":0,"g":4,"h":4.349,"I":0.78},
{"s":0,"g":5,"h":4.652,"I":1.09},{"s":0,"g":5,"h":4.667,"I":1.6},{"s":0,"g":5,"h":4.687,"I":1.68},{"s":0,"g":5,"h":4.707,"I":1.43},{"s":0,"g":5,"h":4.738,"I":1.03},{"s":0,"g":5,"h":4.804,"I":0.87},{"s":0,"g":5,"h":4.93,"I":0.7},{"s":0,"g":5,"h":5.082,"I":0.56},{"s":0,"g":5,"h":5.234,"I":0.48},{"s":0,"g":5,"h":5.345,"I":0.42},
{"s":0,"g":6,"h":5.654,"I":1.18},{"s":0,"g":6,"h":5.663,"I":0.78},{"s":0,"g":6,"h":5.674,"I":0.5},{"s":0,"g":6,"h":5.689,"I":0.87},{"s":0,"g":6,"h":5.715,"I":0.97},{"s":0,"g":6,"h":5.739,"I":0.87},{"s":0,"g":6,"h":5.791,"I":0.48},{"s":0,"g":6,"h":5.841,"I":0.234},{"s":0,"g":6,"h":5.882,"I":0.095},{"s":0,"g":6,"h":5.91,"I":0.07},{"s":0,"g":6,"h":5.942,"I":0.09},{"s":0,"g":6,"h":5.967,"I":0.178},{"s":0,"g":6,"h":6.018,"I":0.247},{"s":0,"g":6,"h":6.094,"I":0.3},{"s":0,"g":6,"h":6.195,"I":0.316},{"s":0,"g":6,"h":6.337,"I":0.316},
{"s":0,"g":7,"h":6.65,"I":0.8},{"s":0,"g":7,"h":6.665,"I":0.7},{"s":0,"g":7,"h":6.686,"I":0.81},{"s":0,"g":7,"h":6.71,"I":0.9},{"s":0,"g":7,"h":6.736,"I":0.81},{"s":0,"g":7,"h":6.777,"I":0.59},{"s":0,"g":7,"h":6.853,"I":0.38},{"s":0,"g":7,"h":6.953,"I":0.26},{"s":0,"g":7,"h":7.029,"I":0.23},{"s":0,"g":7,"h":7.105,"I":0.22},{"s":0,"g":7,"h":7.2,"I":0.225},{"s":0,"g":7,"h":7.348,"I":0.222},
{"s":0,"g":8,"h":7.651,"I":0.22},{"s":0,"g":8,"h":7.662,"I":0.48},{"s":0,"g":8,"h":7.677,"I":0.48},{"s":0,"g":8,"h":7.692,"I":0.147},{"s":0,"g":8,"h":7.702,"I":0.343},{"s":0,"g":8,"h":7.722,"I":0.59},{"s":0,"g":8,"h":7.743,"I":0.7},{"s":0,"g":8,"h":7.773,"I":0.59},{"s":0,"g":8,"h":7.813,"I":0.38},{"s":0,"g":8,"h":7.864,"I":0.2},{"s":0,"g":8,"h":7.889,"I":0.178},{"s":0,"g":8,"h":7.94,"I":0.247},{"s":0,"g":8,"h":8.016,"I":0.308},{"s":0,"g":8,"h":8.092,"I":0.325},{"s":0,"g":8,"h":8.193,"I":0.308},{"s":0,"g":8,"h":8.344,"I":0.276},
{"s":0,"g":9,"h":8.648,"I":0.48},{"s":0,"g":9,"h":8.663,"I":0.343},{"s":0,"g":9,"h":8.684,"I":0.43},{"s":0,"g":9,"h":8.704,"I":0.234},{"s":0,"g":9,"h":8.724,"I":0.405},{"s":0,"g":9,"h":8.75,"I":0.53},{"s":0,"g":9,"h":8.775,"I":0.557},{"s":0,"g":9,"h":8.8,"I":0.5},{"s":0,"g":9,"h":8.825,"I":0.343},{"s":0,"g":9,"h":8.85,"I":0.234},{"s":0,"g":9,"h":8.876,"I":0.151},{"s":0,"g":9,"h":8.911,"I":0.07},{"s":0,"g":9,"h":9.002,"I":0.07},{"s":0,"g":9,"h":9.027,"I":0.151},{"s":0,"g":9,"h":9.078,"I":0.183},{"s":0,"g":9,"h":9.154,"I":0.19},{"s":0,"g":9,"h":9.229,"I":0.187},{"s":0,"g":9,"h":9.356,"I":0.183},
{"s":0,"g":10,"h":9.66,"I":0.7},{"s":0,"g":10,"h":9.669,"I":0.43},{"s":0,"g":10,"h":9.685,"I":0.234},{"s":0,"g":10,"h":9.7,"I":0.405},{"s":0,"g":10,"h":9.721,"I":0.38},{"s":0,"g":10,"h":9.746,"I":0.325},{"s":0,"g":10,"h":9.767,"I":0.29},{"s":0,"g":10,"h":9.797,"I":0.285},{"s":0,"g":10,"h":9.837,"I":0.27},{"s":0,"g":10,"h":9.888,"I":0.234},{"s":0,"g":10,"h":9.939,"I":0.178},{"s":0,"g":10,"h":9.974,"I":0.128},{"s":0,"g":10,"h":9.99,"I":0.07},{"s":0,"g":10,"h":10.089,"I":0.07},{"s":0,"g":10,"h":10.12,"I":0.104},{"s":0,"g":10,"h":10.19,"I":0.107},{"s":0,"g":10,"h":10.267,"I":0.11},{"s":0,"g":10,"h":10.343,"I":0.116},
{"s":0,"g":11,"h":10.63,"I":0.07},{"s":0,"g":11,"h":10.636,"I":0.106},{"s":0,"g":11,"h":10.656,"I":0.325},{"s":0,"g":11,"h":10.67,"I":0.53},{"s":0,"g":11,"h":10.686,"I":0.106},{"s":0,"g":11,"h":10.707,"I":0.363},{"s":0,"g":11,"h":10.722,"I":0.43},{"s":0,"g":11,"h":10.737,"I":0.17},{"s":0,"g":11,"h":10.757,"I":0.21},{"s":0,"g":11,"h":10.772,"I":0.128},{"s":0,"g":11,"h":10.798,"I":0.106},{"s":0,"g":11,"h":10.823,"I":0.151},{"s":0,"g":11,"h":10.859,"I":0.17},{"s":0,"g":11,"h":10.88,"I":0.14},{"s":0,"g":11,"h":10.899,"I":0.178},{"s":0,"g":11,"h":10.92,"I":0.15},{"s":0,"g":11,"h":10.94,"I":0.188},{"s":0,"g":11,"h":10.975,"I":0.17},{"s":0,"g":11,"h":11.0,"I":0.13},{"s":0,"g":11,"h":11.025,"I":0.151},{"s":0,"g":11,"h":11.076,"I":0.118},{"s":0,"g":11,"h":11.111,"I":0.07},
{"s":0,"g":12,"h":11.638,"I":0.07},{"s":0,"g":12,"h":11.642,"I":0.106},{"s":0,"g":12,"h":11.658,"I":0.363},{"s":0,"g":12,"h":11.678,"I":0.17},{"s":0,"g":12,"h":11.698,"I":0.106},{"s":0,"g":12,"h":11.733,"I":0.234},{"s":0,"g":12,"h":11.769,"I":0.29},{"s":0,"g":12,"h":11.8,"I":0.22},{"s":0,"g":12,"h":11.82,"I":0.118},{"s":0,"g":12,"h":11.85,"I":0.07},{"s":0,"g":12,"h":11.961,"I":0.07},{"s":0,"g":12,"h":12.011,"I":0.128},{"s":0,"g":12,"h":12.062,"I":0.151},{"s":0,"g":12,"h":12.113,"I":0.155},{"s":0,"g":12,"h":12.163,"I":0.14},{"s":0,"g":12,"h":12.239,"I":0.118},{"s":0,"g":12,"h":12.29,"I":0.106},{"s":0,"g":12,"h":12.315,"I":0.07},
{"s":0,"g":13,"h":12.65,"I":0.07},{"s":0,"g":13,"h":12.654,"I":0.106},{"s":0,"g":13,"h":12.669,"I":0.22},{"s":0,"g":13,"h":12.689,"I":0.14},{"s":0,"g":13,"h":12.71,"I":0.106},{"s":0,"g":13,"h":12.745,"I":0.151},{"s":0,"g":13,"h":12.78,"I":0.188},{"s":0,"g":13,"h":12.811,"I":0.22},{"s":0,"g":13,"h":12.836,"I":0.188},{"s":0,"g":13,"h":12.862,"I":0.128},{"s":0,"g":13,"h":12.882,"I":0.07},{"s":0,"g":13,"h":13.048,"I":0.07},{"s":0,"g":13,"h":13.09,"I":0.117},{"s":0,"g":13,"h":13.155,"I":0.125},{"s":0,"g":13,"h":13.21,"I":0.107},{"s":0,"g":13,"h":13.245,"I":0.07},
{"s":0,"g":14,"h":13.655,"I":0.07},{"s":0,"g":14,"h":13.661,"I":0.21},{"s":0,"g":14,"h":13.67,"I":0.07},{"s":0,"g":14,"h":13.757,"I":0.07},{"s":0,"g":14,"h":13.781,"I":0.137},{"s":0,"g":14,"h":13.807,"I":0.14},{"s":0,"g":14,"h":13.833,"I":0.118},{"s":0,"g":14,"h":13.857,"I":0.07},
{"s":0,"g":15,"h":14.637,"I":0.07},{"s":0,"g":15,"h":14.646,"I":0.19},{"s":0,"g":15,"h":14.661,"I":0.186},{"s":0,"g":15,"h":14.676,"I":0.07},{"s":0,"g":15,"h":14.697,"I":0.12},{"s":0,"g":15,"h":14.718,"I":0.07},
{"s":0,"g":16,"h":15.638,"I":0.07},{"s":0,"g":16,"h":15.658,"I":0.2},{"s":0,"g":16,"h":15.678,"I":0.234},{"s":0,"g":16,"h":15.704,"I":0.188},{"s":0,"g":16,"h":15.729,"I":0.137},{"s":0,"g":16,"h":15.754,"I":0.151},{"s":0,"g":16,"h":15.78,"I":0.07},
{"s":0,"g":17,"h":16.635,"I":0.07},{"s":0,"g":17,"h":16.64,"I":0.118},{"s":0,"g":17,"h":16.665,"I":0.21},{"s":0,"g":17,"h":16.69,"I":0.178},{"s":0,"g":17,"h":16.716,"I":0.14},{"s":0,"g":17,"h":16.755,"I":0.188},{"s":0,"g":17,"h":16.791,"I":0.178},{"s":0,"g":17,"h":16.816,"I":0.118},{"s":0,"g":17,"h":16.84,"I":0.07},
{"s":0,"g":18,"h":17.63,"I":0.07},{"s":0,"g":18,"h":17.66,"I":0.14},{"s":0,"g":18,"h":17.685,"I":0.137},{"s":0,"g":18,"h":17.717,"I":0.16},{"s":0,"g":18,"h":17.737,"I":0.14},{"s":0,"g":18,"h":17.75,"I":0.07},
{"s":0,"g":19,"h":18.637,"I":0.07},{"s":0,"g":19,"h":18.643,"I":0.2},{"s":0,"g":19,"h":18.66,"I":0.07},
{"s":0,"g":20,"h":19.645,"I":0.07},{"s":0,"g":20,"h":19.655,"I":0.13},{"s":0,"g":20,"h":19.67,"I":0.07}
]},
 "mark":{"type":"line","strokeWidth":1.8,"clip":true},
 "encoding":{
  "x":{"field":"h","type":"quantitative","scale":{"domain":[0.5,20.5],"nice":false,"zero":false},"axis":null},
  "y":{"field":"I","type":"quantitative","scale":{"type":"log","domain":[0.1,100],"nice":false},"axis":null},
  "detail":{"field":"g","type":"nominal"},
  "color":{"field":"s","type":"nominal","scale":{"domain":[1,2,0],"range":["#0072BD","#D95319","#EDB120"]},
   "legend":{"orient":"none","legendX":1041,"legendY":23,"title":null,
    "symbolType":"M-1,0L1,0M0.062,0A0.062,0.062,0,1,1,-0.062,0A0.062,0.062,0,1,1,0.062,0Z",
    "symbolSize":9409,"symbolStrokeWidth":2,"clipHeight":45,"rowPadding":4,"padding":8,"symbolOffset":2,
    "labelFont":"Noto Sans","labelFontSize":34,"labelColor":"#000000","labelOffset":6,
    "fillColor":"white","strokeColor":"#7f7f7f",
    "encode":{"legend":{"update":{"strokeWidth":{"value":2}}},
     "symbols":{"update":{"fill":{"scale":"color","field":"value"},"fillOpacity":{"value":1},"strokeOpacity":{"value":0.5}}}}}}}}
]
}
